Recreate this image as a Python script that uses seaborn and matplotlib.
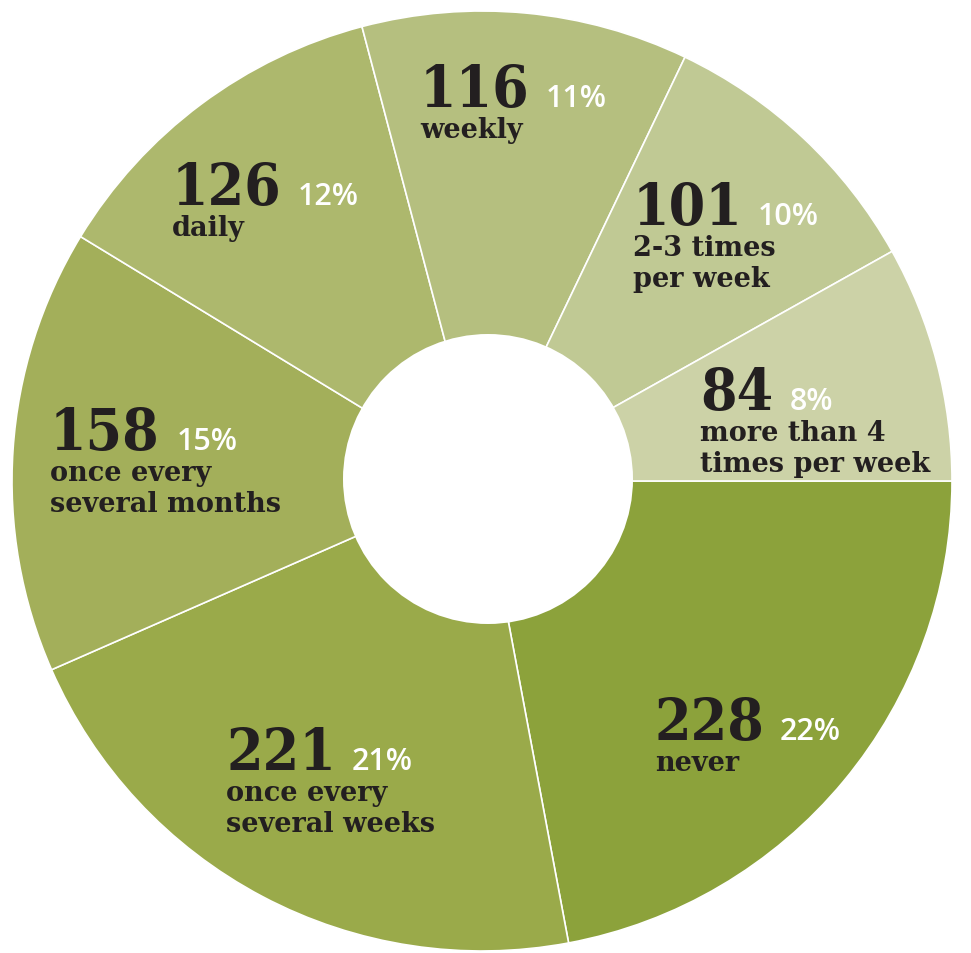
import matplotlib
matplotlib.use("Agg")
import matplotlib.pyplot as plt
import seaborn as sns
from matplotlib.patches import Circle

# data, clockwise from 3 o'clock
categories = ["never", "once every\nseveral weeks", "once every\nseveral months",
              "daily", "weekly", "2-3 times\nper week", "more than 4\ntimes per week"]
counts = [228, 221, 158, 126, 116, 101, 84]
colors = ["#8ca23b", "#9aaa4a", "#a3af5a", "#adb86d", "#b5bf7f", "#c0c994", "#ccd2a7"]

# label anchor (left x, number baseline y) in pixels from top-left
label_pos = [(655, 740), (226, 770), (50, 450), (172, 205), (420, 107), (633, 225), (700, 410)]
pct_dx = [125, 126, 127, 126, 126, 125, 90]

W, H = 971, 954
cx, cy, r_out = 482, 482, 470
hx, hy, r_in = 488, 480, 145

sns.set_theme(style="white")
fig = plt.figure(figsize=(W / 100, H / 100), dpi=100)
ax = fig.add_axes([0, 0, 1, 1])

ax.pie(counts, colors=colors, startangle=0, counterclock=False,
       center=(cx, H - cy), radius=r_out,
       wedgeprops=dict(edgecolor="white", linewidth=1.2))
ax.add_patch(Circle((hx, H - hy), r_in, facecolor="white", edgecolor="none", zorder=3))
ax.set_xlim(0, W)
ax.set_ylim(0, H)
ax.set_aspect("equal")
ax.axis("off")

total = sum(counts)
dark = "#231f20"
for cat, n, (x, y), dx in zip(categories, counts, label_pos, pct_dx):
    ax.text(x, H - y, str(n), fontsize=42, fontweight="bold", color=dark,
            family="DejaVu Serif", fontstretch="condensed",
            va="baseline", ha="left", zorder=4)
    ax.text(x + dx, H - y, f"{round(n / total * 100)}%", fontsize=22,
            color="white", family="Open Sans", fontweight="semibold",
            va="baseline", ha="left", zorder=4)
    for i, line in enumerate(cat.split("\n")):
        ax.text(x, H - (y + 31 + 31 * i), line, fontsize=19.5, color=dark,
                family="DejaVu Serif", fontweight="bold",
                va="baseline", ha="left", zorder=4)

fig.savefig("out.png", dpi=100, facecolor="white")
